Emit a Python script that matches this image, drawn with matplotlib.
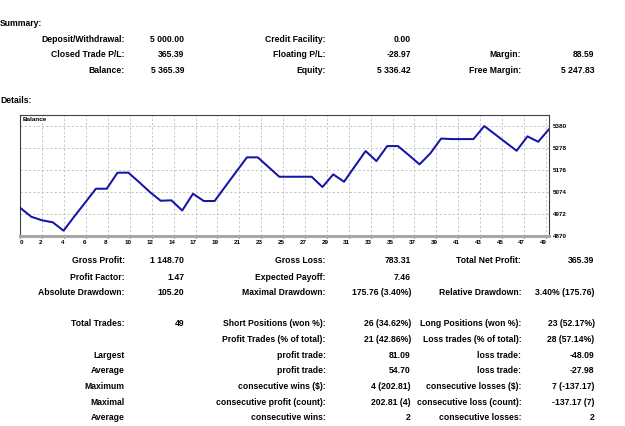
import matplotlib
matplotlib.use("Agg")
import matplotlib.pyplot as plt
from matplotlib.transforms import ScaledTranslation

# ---------------- data ----------------
balance = [5000.0, 4959.5, 4942.8, 4933.5, 4894.8, 4960.9, 5024.8, 5089.3, 5089.3, 5163.5,
           5164.0, 5120.3, 5074.0, 5033.6, 5035.5, 4988.2, 5066.1, 5032.3, 5032.3, 5100.0,
           5167.6, 5234.9, 5234.9, 5189.9, 5144.9, 5144.9, 5144.9, 5144.9, 5097.2, 5156.0,
           5121.7, 5193.1, 5264.1, 5217.7, 5287.2, 5287.2, 5245.5, 5202.4, 5253.4, 5322.0,
           5319.7, 5319.7, 5319.7, 5380.0, 5341.9, 5303.5, 5265.5, 5332.2, 5307.2, 5365.39]
x_tick_labels = ["0", "2", "4", "6", "8", "10", "12", "14", "17", "19", "21", "23", "25",
                 "27", "29", "31", "33", "35", "37", "39", "41", "43", "45", "47", "49"]
y_tick_values = [4870, 4972, 5074, 5176, 5278, 5380]

summary_rows = [
    [("Deposit/Withdrawal:", "5 000.00"), ("Credit Facility:", "0.00"), ("", "")],
    [("Closed Trade P/L:", "365.39"), ("Floating P/L:", "-28.97"), ("Margin:", "88.59")],
    [("Balance:", "5 365.39"), ("Equity:", "5 336.42"), ("Free Margin:", "5 247.83")],
]
details_rows = [
    [("Gross Profit:", "1 148.70"), ("Gross Loss:", "783.31"), ("Total Net Profit:", "365.39")],
    [("Profit Factor:", "1.47"), ("Expected Payoff:", "7.46"), ("", "")],
    [("Absolute Drawdown:", "105.20"), ("Maximal Drawdown:", "175.76 (3.40%)"),
     ("Relative Drawdown:", "3.40% (175.76)")],
]
trades_rows = [
    [("Total Trades:", "49"), ("Short Positions (won %):", "26 (34.62%)"),
     ("Long Positions (won %):", "23 (52.17%)")],
    [("", ""), ("Profit Trades (% of total):", "21 (42.86%)"),
     ("Loss trades (% of total):", "28 (57.14%)")],
    [("Largest", ""), ("profit trade:", "81.09"), ("loss trade:", "-48.09")],
    [("Average", ""), ("profit trade:", "54.70"), ("loss trade:", "-27.98")],
    [("Maximum", ""), ("consecutive wins ($):", "4 (202.81)"),
     ("consecutive losses ($):", "7 (-137.17)")],
    [("Maximal", ""), ("consecutive profit (count):", "202.81 (4)"),
     ("consecutive loss (count):", "-137.17 (7)")],
    [("Average", ""), ("consecutive wins:", "2"), ("consecutive losses:", "2")],
]

# ---------------- layout ----------------
W, H = 625, 426
fig = plt.figure(figsize=(W / 100, H / 100), dpi=100)
plt.rcParams['font.family'] = ['Liberation Sans', 'DejaVu Sans']

FS = 6.2
FW = 'bold'

def ptext(x, y, s, ha='right', **kw):
    fig.text(x / W, 1 - y / H, s, ha=ha, va='center', fontsize=kw.pop('fs', FS),
             fontweight=kw.pop('fw', FW), color='black', **kw)

label_x = [124.8, 325.6, 521.3]
value_x = [184.1, 410.9, 594.6]

def draw_rows(rows, ys):
    for row, y in zip(rows, ys):
        for c, (lab, val) in enumerate(row):
            if lab:
                ptext(label_x[c], y, lab)
            if val:
                ptext(value_x[c], y, val)

ptext(0, 23.7, "Summary:", ha='left')
draw_rows(summary_rows, [39.0, 54.7, 70.7])
ptext(0, 100.7, "Details:", ha='left')
draw_rows(details_rows, [260.7, 277.3, 292.7])
draw_rows(trades_rows, [324.0, 339.7, 355.0, 370.7, 386.3, 402.3, 418.0])

# ---------------- chart ----------------
left, right, top, bottom = 20.4, 549.0, 115.3, 236.0
ax = fig.add_axes([left / W, 1 - bottom / H, (right - left) / W, (bottom - top) / H])
n = len(balance)
xs = list(range(n))
ax.plot(xs, balance, color='#1414a8', lw=1.45, solid_joinstyle='round', zorder=3)
ax.set_xlim(0, n - 1)
ax.set_ylim(4870, 5430)

px_per_unit = (right - left) / (n - 1)
grid_step = 21.89 / px_per_unit
grid_x = [k * grid_step for k in range(len(x_tick_labels))]
for gx in grid_x[1:]:
    ax.axvline(gx, color='#c4c4c4', lw=0.7, ls=(0, (2.2, 2.2)), zorder=1)
for gy in y_tick_values[1:]:
    ax.axhline(gy, color='#c4c4c4', lw=0.7, ls=(0, (2.2, 2.2)), zorder=1)

ax.set_xticks(grid_x)
ax.set_xticklabels(x_tick_labels)
ax.tick_params(axis='x', length=1.5, width=0.8, color='#303030', pad=1.2,
               labelsize=4.5, direction='out')
for lbl in ax.get_xticklabels():
    lbl.set_fontweight('bold')
    lbl.set_transform(lbl.get_transform() + ScaledTranslation(-2 / 100, 0, fig.dpi_scale_trans))
ax.get_xticklabels()[0].set_transform(ax.get_xticklabels()[0].get_transform()
                                      + ScaledTranslation(3.5 / 100, 0, fig.dpi_scale_trans))

ax.yaxis.tick_right()
ax.set_yticks(y_tick_values)
ax.set_yticklabels([str(v) for v in y_tick_values])
ax.tick_params(axis='y', length=0, pad=2.5, labelsize=4.5)
for lbl in ax.get_yticklabels():
    lbl.set_fontweight('bold')

for side in ['top', 'left', 'right']:
    ax.spines[side].set_color('#404040')
    ax.spines[side].set_linewidth(0.8)
ax.spines['bottom'].set_color('#a8a8a8')
ax.spines['bottom'].set_linewidth(2.2)

ax.text(0.004, 0.985, "Balance", transform=ax.transAxes, ha='left', va='top',
        fontsize=4.6, fontweight='bold', color='black')

fig.savefig("out.png", dpi=100)
